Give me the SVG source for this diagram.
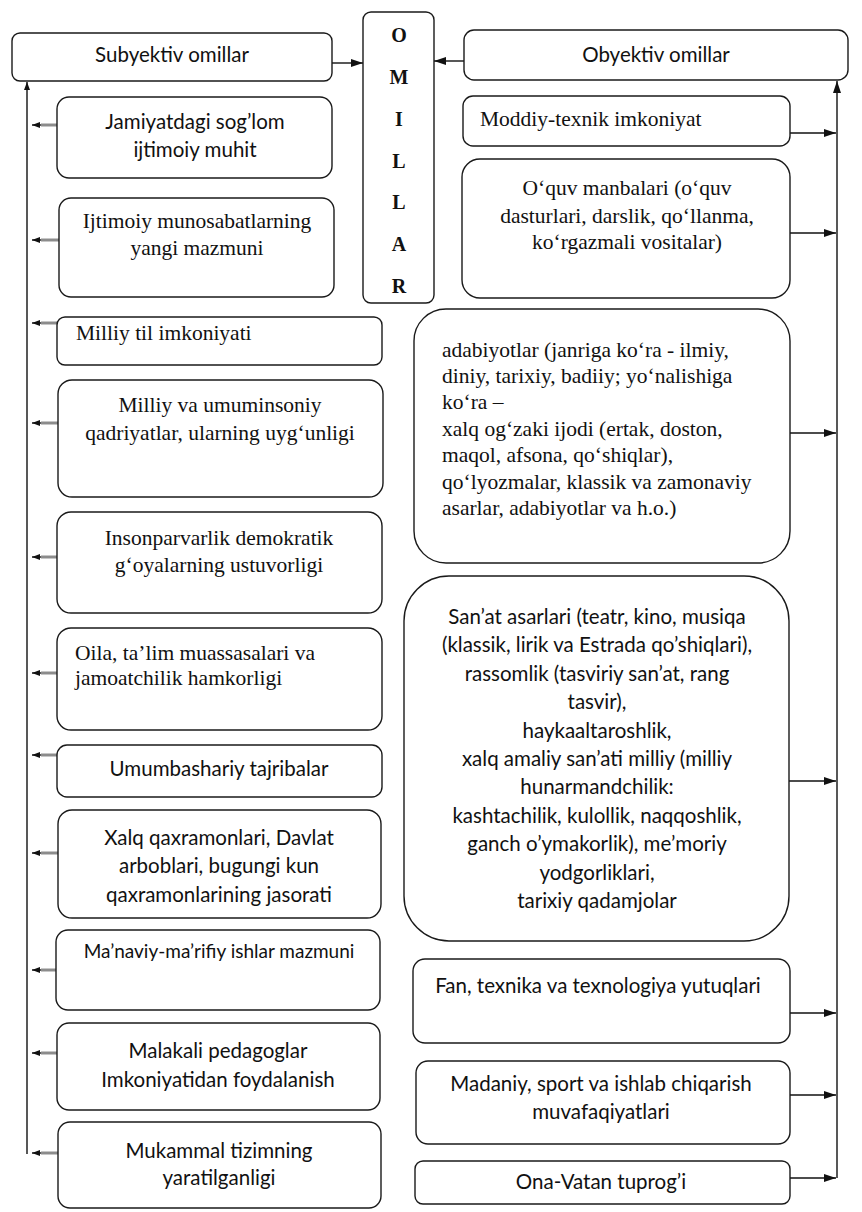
<svg xmlns="http://www.w3.org/2000/svg" width="862" height="1212" viewBox="0 0 862 1212">
<defs>
<style>
.box{fill:#fff;stroke:#1a1a1a;stroke-width:1.4}
.sans{font-family:Lato,"Liberation Sans",sans-serif;font-size:20.5px;fill:#111}
.small{font-size:19px}
.serif{font-family:"Liberation Serif",serif;font-size:21.5px;fill:#111}
.big{font-family:"Liberation Serif",serif;font-weight:bold;font-size:20px;fill:#111;text-anchor:middle}
.c{text-anchor:middle}
.conn{stroke:#111;stroke-width:1.4;fill:none}
.stub{stroke:#8c8c8c;stroke-width:3;fill:none}
</style>
<marker id="ah" viewBox="0 0 12 8" refX="12" refY="4" markerWidth="12" markerHeight="8" markerUnits="userSpaceOnUse" orient="auto"><path d="M0,0 L12,4 L0,8 z" fill="#111"/></marker>
<marker id="ahs" viewBox="0 0 8 6" refX="8" refY="3" markerWidth="8" markerHeight="6" markerUnits="userSpaceOnUse" orient="auto"><path d="M0,0 L8,3 L0,6 z" fill="#111"/></marker>
</defs>
<rect width="862" height="1212" fill="#fff"/>

<g id="connectors">
<line class="conn" x1="332" y1="63" x2="363" y2="63" marker-end="url(#ah)"/>
<line class="conn" x1="464" y1="61" x2="434" y2="61" marker-end="url(#ah)"/>
<line class="conn" x1="27" y1="1154" x2="27" y2="82" marker-end="url(#ahs)"/>
<line class="conn" x1="837" y1="1178" x2="837" y2="81" marker-end="url(#ah)"/>
<g id="left-arrows">
<line class="stub" x1="57" y1="125" x2="41" y2="125"/><line class="conn" x1="41" y1="125" x2="32" y2="125" marker-end="url(#ahs)"/>
<line class="stub" x1="59" y1="240" x2="41" y2="240"/><line class="conn" x1="41" y1="240" x2="32" y2="240" marker-end="url(#ahs)"/>
<line class="stub" x1="57" y1="323" x2="41" y2="323"/><line class="conn" x1="41" y1="323" x2="32" y2="323" marker-end="url(#ahs)"/>
<line class="stub" x1="58" y1="423" x2="41" y2="423"/><line class="conn" x1="41" y1="423" x2="32" y2="423" marker-end="url(#ahs)"/>
<line class="stub" x1="57" y1="557" x2="41" y2="557"/><line class="conn" x1="41" y1="557" x2="32" y2="557" marker-end="url(#ahs)"/>
<line class="stub" x1="57" y1="673" x2="41" y2="673"/><line class="conn" x1="41" y1="673" x2="32" y2="673" marker-end="url(#ahs)"/>
<line class="stub" x1="57" y1="755" x2="41" y2="755"/><line class="conn" x1="41" y1="755" x2="32" y2="755" marker-end="url(#ahs)"/>
<line class="stub" x1="58" y1="853" x2="41" y2="853"/><line class="conn" x1="41" y1="853" x2="32" y2="853" marker-end="url(#ahs)"/>
<line class="stub" x1="56" y1="970" x2="41" y2="970"/><line class="conn" x1="41" y1="970" x2="32" y2="970" marker-end="url(#ahs)"/>
<line class="stub" x1="57" y1="1053" x2="41" y2="1053"/><line class="conn" x1="41" y1="1053" x2="32" y2="1053" marker-end="url(#ahs)"/>
<line class="stub" x1="58" y1="1153" x2="41" y2="1153"/><line class="conn" x1="41" y1="1153" x2="32" y2="1153" marker-end="url(#ahs)"/>
</g>
<g id="right-arrows">
<line class="conn" x1="790" y1="133" x2="836" y2="133" marker-end="url(#ah)"/>
<line class="conn" x1="790" y1="233" x2="836" y2="233" marker-end="url(#ah)"/>
<line class="conn" x1="790" y1="433" x2="836" y2="433" marker-end="url(#ah)"/>
<line class="conn" x1="789" y1="781" x2="836" y2="781" marker-end="url(#ah)"/>
<line class="conn" x1="790" y1="1013" x2="836" y2="1013" marker-end="url(#ah)"/>
<line class="conn" x1="790" y1="1095" x2="836" y2="1095" marker-end="url(#ah)"/>
<line class="conn" x1="790" y1="1178" x2="836" y2="1178" marker-end="url(#ah)"/>
</g>
</g>

<g id="omillar">
<rect class="box" x="363" y="12" width="71" height="291" rx="8"/>
<text class="big" x="399" y="42">O</text>
<text class="big" x="399" y="84">M</text>
<text class="big" x="399" y="126">I</text>
<text class="big" x="399" y="168">L</text>
<text class="big" x="399" y="209">L</text>
<text class="big" x="399" y="251">A</text>
<text class="big" x="399" y="293">R</text>
</g>

<g id="subyektiv">
<rect class="box" x="12" y="33" width="320" height="48" rx="8"/>
<text class="sans c" x="172" y="62">Subyektiv omillar</text>
</g>
<g id="l1">
<rect class="box" x="57" y="97" width="275" height="81" rx="12"/>
<text class="sans c" x="195" y="129">Jamiyatdagi sog’lom</text>
<text class="sans c" x="195" y="157">ijtimoiy muhit</text>
</g>
<g id="l2">
<rect class="box" x="59" y="198" width="275" height="99" rx="12"/>
<text class="serif c" x="197" y="228">Ijtimoiy munosabatlarning</text>
<text class="serif c" x="197" y="255">yangi mazmuni</text>
</g>
<g id="l3">
<rect class="box" x="57" y="317" width="325" height="48" rx="8"/>
<text class="serif" x="76" y="340">Milliy til imkoniyati</text>
</g>
<g id="l4">
<rect class="box" x="58" y="380" width="325" height="117" rx="14"/>
<text class="serif c" x="220" y="412">Milliy va umuminsoniy</text>
<text class="serif c" x="220" y="440">qadriyatlar, ularning uyg‘unligi</text>
</g>
<g id="l5">
<rect class="box" x="57" y="512" width="325" height="101" rx="14"/>
<text class="serif c" x="219" y="545">Insonparvarlik demokratik</text>
<text class="serif c" x="219" y="572">g‘oyalarning ustuvorligi</text>
</g>
<g id="l6">
<rect class="box" x="57" y="628" width="325" height="102" rx="14"/>
<text class="serif" x="75" y="660">Oila, ta’lim muassasalari va</text>
<text class="serif" x="75" y="685">jamoatchilik hamkorligi</text>
</g>
<g id="l7">
<rect class="box" x="57" y="745" width="325" height="52" rx="10"/>
<text class="sans c" x="219" y="776">Umumbashariy tajribalar</text>
</g>
<g id="l8">
<rect class="box" x="58" y="810" width="323" height="108" rx="14"/>
<text class="sans c" x="219" y="845">Xalq qaxramonlari, Davlat</text>
<text class="sans c" x="219" y="873">arboblari, bugungi kun</text>
<text class="sans c" x="219" y="902">qaxramonlarining jasorati</text>
</g>
<g id="l9">
<rect class="box" x="56" y="930" width="324" height="80" rx="12"/>
<text class="sans small c" x="219" y="958">Ma’naviy-ma’rifiy ishlar mazmuni</text>
</g>
<g id="l10">
<rect class="box" x="57" y="1023" width="323" height="87" rx="12"/>
<text class="sans c" x="218" y="1058">Malakali pedagoglar</text>
<text class="sans c" x="218" y="1087">Imkoniyatidan foydalanish</text>
</g>
<g id="l11">
<rect class="box" x="58" y="1122" width="323" height="86" rx="12"/>
<text class="sans c" x="219" y="1158">Mukammal tizimning</text>
<text class="sans c" x="219" y="1185">yaratilganligi</text>
</g>

<g id="obyektiv">
<rect class="box" x="464" y="30" width="384" height="50" rx="10"/>
<text class="sans c" x="656" y="62">Obyektiv omillar</text>
</g>
<g id="r1">
<rect class="box" x="463" y="96" width="327" height="50" rx="10"/>
<text class="serif" x="480" y="126">Moddiy-texnik imkoniyat</text>
</g>
<g id="r2">
<rect class="box" x="462" y="159" width="328" height="139" rx="18"/>
<text class="serif c" x="627" y="195">O‘quv manbalari (o‘quv</text>
<text class="serif c" x="627" y="223">dasturlari, darslik, qo‘llanma,</text>
<text class="serif c" x="627" y="249">ko‘rgazmali vositalar)</text>
</g>
<g id="r3">
<rect class="box" x="414" y="309" width="376" height="254" rx="32"/>
<text class="serif" x="442" y="357">adabiyotlar (janriga ko‘ra - ilmiy,</text>
<text class="serif" x="442" y="383">diniy, tarixiy, badiiy; yo‘nalishiga</text>
<text class="serif" x="442" y="409">ko‘ra –</text>
<text class="serif" x="442" y="436">xalq og‘zaki ijodi (ertak, doston,</text>
<text class="serif" x="442" y="462">maqol, afsona, qo‘shiqlar),</text>
<text class="serif" x="442" y="489">qo‘lyozmalar, klassik va zamonaviy</text>
<text class="serif" x="442" y="515">asarlar, adabiyotlar va h.o.)</text>
</g>
<g id="r4">
<rect class="box" x="404" y="576" width="385" height="365" rx="45"/>
<text class="sans c" x="597" y="624">San’at asarlari (teatr, kino, musiqa</text>
<text class="sans c" x="597" y="652">(klassik, lirik va Estrada qo’shiqlari),</text>
<text class="sans c" x="597" y="681">rassomlik (tasviriy san’at, rang</text>
<text class="sans c" x="597" y="709">tasvir),</text>
<text class="sans c" x="597" y="738">haykaaltaroshlik,</text>
<text class="sans c" x="597" y="766">xalq amaliy san’ati milliy (milliy</text>
<text class="sans c" x="597" y="794">hunarmandchilik:</text>
<text class="sans c" x="597" y="823">kashtachilik, kulollik, naqqoshlik,</text>
<text class="sans c" x="597" y="851">ganch o’ymakorlik), me’moriy</text>
<text class="sans c" x="597" y="880">yodgorliklari,</text>
<text class="sans c" x="597" y="908">tarixiy qadamjolar</text>
</g>
<g id="r5">
<rect class="box" x="413" y="959" width="377" height="84" rx="12"/>
<text class="sans c" x="598" y="993">Fan, texnika va texnologiya yutuqlari</text>
</g>
<g id="r6">
<rect class="box" x="416" y="1061" width="374" height="83" rx="12"/>
<text class="sans c" x="601" y="1091">Madaniy, sport va ishlab chiqarish</text>
<text class="sans c" x="601" y="1119">muvafaqiyatlari</text>
</g>
<g id="r7">
<rect class="box" x="415" y="1161" width="375" height="43" rx="8"/>
<text class="sans c" x="601" y="1189">Ona-Vatan tuprog’i</text>
</g>
</svg>
